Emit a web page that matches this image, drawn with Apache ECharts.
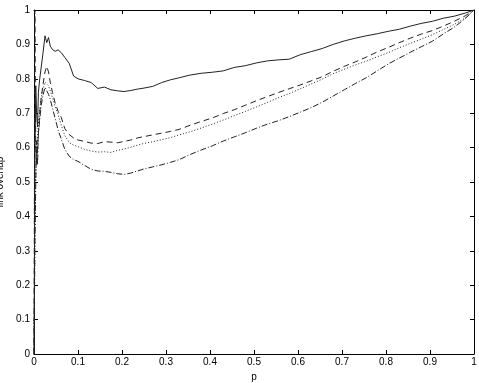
<!DOCTYPE html>
<html>
<head>
<meta charset="utf-8">
<script src="https://cdn.jsdelivr.net/npm/echarts@6/dist/echarts.min.js"></script>
<style>
  html, body { margin: 0; padding: 0; background: #fff; }
  #chart { width: 479px; height: 383px; }
</style>
</head>
<body>
<div id="chart"></div>
<script>
// shared p grid
const pValues = [0, 0.002, 0.004, 0.006, 0.008, 0.01, 0.013, 0.016, 0.02, 0.025, 0.029, 0.033, 0.037, 0.042, 0.048, 0.055, 0.062, 0.07, 0.08, 0.09, 0.1, 0.115, 0.13, 0.145, 0.16, 0.175, 0.19, 0.205, 0.22, 0.235, 0.25, 0.27, 0.29, 0.31, 0.33, 0.355, 0.38, 0.405, 0.43, 0.455, 0.48, 0.505, 0.53, 0.555, 0.58, 0.605, 0.63, 0.655, 0.68, 0.705, 0.73, 0.755, 0.78, 0.805, 0.83, 0.855, 0.88, 0.905, 0.93, 0.955, 0.98, 1]

// link overlap per curve
const solidValues = [0, 0.55, 0.78, 0.70, 0.66, 0.76, 0.80, 0.80, 0.87, 0.925, 0.905, 0.92, 0.895, 0.885, 0.88, 0.884, 0.876, 0.862, 0.845, 0.808, 0.80, 0.795, 0.789, 0.772, 0.776, 0.768, 0.765, 0.763, 0.766, 0.770, 0.773, 0.778, 0.789, 0.797, 0.803, 0.811, 0.816, 0.819, 0.823, 0.833, 0.838, 0.846, 0.852, 0.855, 0.857, 0.87, 0.879, 0.888, 0.9, 0.91, 0.918, 0.925, 0.931, 0.938, 0.944, 0.953, 0.961, 0.967, 0.976, 0.982, 0.991, 1]
const dashedValues = [0, 1.0, 0.60, 0.55, 0.60, 0.64, 0.70, 0.74, 0.78, 0.82, 0.836, 0.82, 0.79, 0.76, 0.73, 0.705, 0.688, 0.655, 0.638, 0.628, 0.622, 0.618, 0.613, 0.612, 0.617, 0.616, 0.614, 0.618, 0.622, 0.628, 0.632, 0.637, 0.642, 0.647, 0.653, 0.665, 0.676, 0.686, 0.699, 0.71, 0.723, 0.736, 0.748, 0.76, 0.771, 0.782, 0.794, 0.806, 0.822, 0.836, 0.849, 0.863, 0.878, 0.891, 0.905, 0.918, 0.93, 0.94, 0.953, 0.967, 0.983, 1]
const dottedValues = [0, 0.35, 0.52, 0.58, 0.63, 0.67, 0.71, 0.74, 0.77, 0.79, 0.793, 0.78, 0.765, 0.745, 0.72, 0.695, 0.665, 0.635, 0.615, 0.607, 0.603, 0.595, 0.59, 0.587, 0.588, 0.586, 0.592, 0.596, 0.601, 0.607, 0.612, 0.617, 0.623, 0.629, 0.637, 0.646, 0.657, 0.668, 0.68, 0.693, 0.705, 0.718, 0.731, 0.745, 0.757, 0.771, 0.785, 0.799, 0.815, 0.828, 0.84, 0.851, 0.864, 0.876, 0.89, 0.903, 0.915, 0.928, 0.943, 0.958, 0.977, 1]
const dashDotValues = [0, 0.30, 0.50, 0.62, 0.55, 0.64, 0.68, 0.72, 0.75, 0.775, 0.77, 0.755, 0.74, 0.715, 0.685, 0.65, 0.625, 0.595, 0.575, 0.565, 0.56, 0.548, 0.537, 0.532, 0.531, 0.528, 0.524, 0.522, 0.526, 0.532, 0.538, 0.544, 0.55, 0.557, 0.565, 0.58, 0.593, 0.605, 0.619, 0.631, 0.643, 0.656, 0.668, 0.678, 0.69, 0.703, 0.716, 0.732, 0.75, 0.768, 0.786, 0.803, 0.823, 0.843, 0.86, 0.877, 0.893, 0.909, 0.93, 0.95, 0.975, 1]

const tickStep = 0.1

const chart = echarts.init(document.getElementById('chart'))

const pairs = (vals) => pValues.map((p, i) => [p, vals[i]])

const axisBase = {
  type: 'value',
  min: 0,
  max: 1,
  interval: tickStep,
  axisLine: { show: true, onZero: false, lineStyle: { color: '#000', width: 1 } },
  axisTick: { show: true, inside: true, length: 4, lineStyle: { color: '#000' } },
  splitLine: { show: false },
}

const labelStyle = { color: '#000', fontSize: 10, fontFamily: 'Liberation Sans, Arial, sans-serif' }

const makeLine = (vals, type) => ({
  type: 'line',
  data: pairs(vals),
  showSymbol: false,
  silent: true,
  lineStyle: { color: '#222', width: 1, type: type },
})

chart.setOption({
  animation: false,
  grid: { left: 34, right: 5, top: 10, bottom: 29, containLabel: false, outerBoundsMode: 'none' },
  xAxis: [
    Object.assign({}, axisBase, {
      position: 'bottom',
      name: 'p',
      nameLocation: 'middle',
      nameGap: 17,
      nameTextStyle: labelStyle,
      axisLabel: Object.assign({ margin: 3 }, labelStyle),
    }),
    Object.assign({}, axisBase, { position: 'top', axisLabel: { show: false } }),
  ],
  yAxis: [
    Object.assign({}, axisBase, {
      position: 'left',
      name: 'link overlap',
      nameLocation: 'middle',
      nameGap: 25,
      nameTextStyle: labelStyle,
      axisLabel: Object.assign({ margin: 4 }, labelStyle),
    }),
    Object.assign({}, axisBase, { position: 'right', axisLabel: { show: false } }),
  ],
  series: [
    makeLine(solidValues, 'solid'),
    makeLine(dashedValues, [6, 4]),
    makeLine(dottedValues, [1, 2]),
    makeLine(dashDotValues, [6, 2, 1, 2]),
  ],
})
</script>
</body>
</html>
